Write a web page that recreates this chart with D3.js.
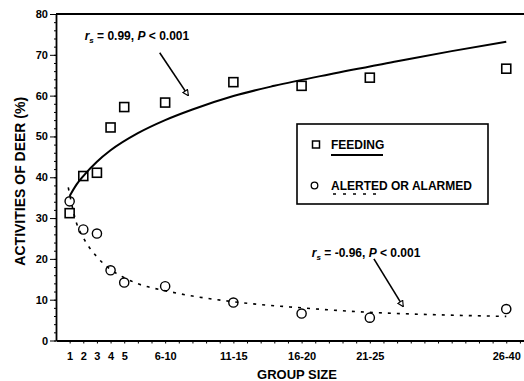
<!DOCTYPE html>
<html>
<head>
<meta charset="utf-8">
<script src="https://cdnjs.cloudflare.com/ajax/libs/d3/7.8.5/d3.min.js"></script>
<style>
body { margin: 0; background: #fff; }
svg { display: block; font-family: "Liberation Sans", Arial, sans-serif; font-weight: bold; }
.axis path, .axis line { stroke: #000; }
.axis text { font-family: "Liberation Sans", Arial, sans-serif; font-weight: bold; fill: #000; }
</style>
</head>
<body>
<div id="chart"></div>
<script>
// group size classes, placed at their midpoint on a linear scale
var groupLabels = ["1", "2", "3", "4", "5", "6-10", "11-15", "16-20", "21-25", "26-40"];
var groupMids = [1, 2, 3, 4, 5, 8, 13, 18, 23, 33];

// % of deer feeding / alerted or alarmed per group size class
var feeding = [31.2, 40.3, 41.1, 52.2, 57.2, 58.3, 63.3, 62.4, 64.4, 66.6];
var alerted = [34.1, 27.2, 26.2, 17.2, 14.2, 13.3, 9.3, 6.6, 5.6, 7.7];

// fitted curves
var feedFitX = [1, 1.5, 2, 3, 4, 6, 8, 10, 13, 16, 20, 25, 29, 33];
var feedFitY = [35.4, 38.2, 40.3, 43.8, 46.6, 50.8, 54.0, 56.6, 59.9, 62.4, 65.2, 68.4, 70.9, 73.2];
var alertFitX = [0.9, 1.5, 2, 3, 4, 5, 6, 8, 10, 13, 18, 23, 28, 33];
var alertFitY = [37.5, 28.8, 25.2, 20.5, 17.4, 15.4, 13.9, 12.2, 10.9, 9.5, 8.0, 6.9, 6.3, 5.9];

var yTicks = [0, 10, 20, 30, 40, 50, 60, 70, 80];

var width = 524,
    height = 381;

var svg = d3.select("#chart").append("svg")
    .attr("width", width)
    .attr("height", height);

var x = d3.scaleLinear()
    .domain([0, 34.3])
    .range([56, 524]);

var y = d3.scaleLinear()
    .domain([0, 80])
    .range([340.5, 14]);

// arrow head for the annotations
svg.append("defs").append("marker")
    .attr("id", "arrow")
    .attr("viewBox", "0 0 10 10")
    .attr("refX", 9)
    .attr("refY", 5)
    .attr("markerWidth", 7)
    .attr("markerHeight", 7)
    .attr("markerUnits", "userSpaceOnUse")
    .attr("orient", "auto")
  .append("path")
    .attr("d", "M1,1 L9,5 L1,9 Z")
    .attr("fill", "#fff")
    .attr("stroke", "#000")
    .attr("stroke-width", 1.6);

// minor y ticks
svg.append("g")
    .attr("class", "axis")
    .attr("transform", "translate(" + x(0) + ",0)")
    .call(d3.axisLeft(y).tickValues(d3.range(0, 81, 2)).tickSize(2).tickFormat(""))
    .call(function(g) { g.select(".domain").remove(); });

var yAxis = svg.append("g")
    .attr("class", "axis")
    .attr("transform", "translate(" + x(0) + ",0)")
    .call(d3.axisLeft(y).tickValues(yTicks).tickSize(6).tickSizeOuter(0).tickPadding(2));
yAxis.select(".domain").attr("stroke-width", 1.8);
yAxis.selectAll("text").style("font-size", "11px");

var xAxis = svg.append("g")
    .attr("class", "axis")
    .attr("transform", "translate(0," + y(0) + ")")
    .call(d3.axisBottom(x)
        .tickValues(d3.range(1, 35))
        .tickSize(3)
        .tickSizeOuter(0)
        .tickPadding(9)
        .tickFormat(function(d) {
            var i = groupMids.indexOf(d);
            return i >= 0 ? groupLabels[i] : "";
        }));
xAxis.select(".domain").attr("stroke-width", 2);
xAxis.selectAll("text").style("font-size", "11px");

// top frame line
svg.append("line")
    .attr("x1", x(0))
    .attr("x2", x.range()[1])
    .attr("y1", y(80))
    .attr("y2", y(80))
    .attr("stroke", "#000")
    .attr("stroke-width", 2);

svg.append("text")
    .attr("transform", "translate(25," + ((y(0) + y(80)) / 2 + 4) + ") rotate(-90)")
    .style("text-anchor", "middle")
    .style("font-size", "14px")
    .text("ACTIVITIES OF DEER (%)");

svg.append("text")
    .attr("x", 297)
    .attr("y", 379)
    .style("text-anchor", "middle")
    .style("font-size", "13px")
    .text("GROUP SIZE");

// fitted curves
var line = d3.line()
    .x(function(d) { return x(d[0]); })
    .y(function(d) { return y(d[1]); })
    .curve(d3.curveMonotoneX);

svg.append("path")
    .datum(d3.zip(feedFitX, feedFitY))
    .attr("d", line)
    .attr("fill", "none")
    .attr("stroke", "#000")
    .attr("stroke-width", 2);

svg.append("path")
    .datum(d3.zip(alertFitX, alertFitY))
    .attr("d", line)
    .attr("fill", "none")
    .attr("stroke", "#000")
    .attr("stroke-width", 1.6)
    .attr("stroke-dasharray", "3,6");

// data points
svg.selectAll("rect.feed")
    .data(d3.zip(groupMids, feeding))
    .enter().append("rect")
    .attr("class", "feed")
    .attr("x", function(d) { return x(d[0]) - 4.5; })
    .attr("y", function(d) { return y(d[1]) - 4.5; })
    .attr("width", 9)
    .attr("height", 9)
    .attr("fill", "none")
    .attr("stroke", "#000")
    .attr("stroke-width", 1.6);

svg.selectAll("circle.alert")
    .data(d3.zip(groupMids, alerted))
    .enter().append("circle")
    .attr("class", "alert")
    .attr("cx", function(d) { return x(d[0]); })
    .attr("cy", function(d) { return y(d[1]); })
    .attr("r", 4.6)
    .attr("fill", "none")
    .attr("stroke", "#000")
    .attr("stroke-width", 1.4);

// annotations
function stat(tx, ty, value) {
    var t = svg.append("text")
        .attr("x", x(tx))
        .attr("y", y(ty))
        .style("font-size", "12px");
    t.append("tspan").style("font-style", "italic").text("r");
    t.append("tspan").style("font-style", "italic").style("font-size", "8px").attr("dy", 3).text("s");
    t.append("tspan").attr("dy", -3).text(" = " + value + ", ");
    t.append("tspan").style("font-style", "italic").text("P");
    t.append("tspan").text(" < 0.001");
}
function arrow(x1, y1, x2, y2) {
    svg.append("line")
        .attr("x1", x(x1)).attr("y1", y(y1))
        .attr("x2", x(x2)).attr("y2", y(y2))
        .attr("stroke", "#000")
        .attr("stroke-width", 1.6)
        .attr("marker-end", "url(#arrow)");
}
stat(2.1, 73.6, "0.99");
arrow(7.6, 70.5, 9.7, 60);
stat(18.75, 20.5, "-0.96");
arrow(23.3, 20, 25.45, 8.3);

// legend
var legend = svg.append("g")
    .attr("transform", "translate(297,124)");

legend.append("rect")
    .attr("width", 191)
    .attr("height", 80)
    .attr("fill", "#fff")
    .attr("stroke", "#000")
    .attr("stroke-width", 1.6);

legend.append("rect")
    .attr("x", 15.5).attr("y", 17)
    .attr("width", 7).attr("height", 7)
    .attr("fill", "none").attr("stroke", "#000").attr("stroke-width", 1.5);
legend.append("text")
    .attr("x", 34).attr("y", 25)
    .style("font-size", "12px")
    .text("FEEDING");
legend.append("line")
    .attr("x1", 34).attr("x2", 86)
    .attr("y1", 31).attr("y2", 31)
    .attr("stroke", "#000").attr("stroke-width", 1.8);

legend.append("circle")
    .attr("cx", 17.5).attr("cy", 61.5)
    .attr("r", 3.3)
    .attr("fill", "none").attr("stroke", "#000").attr("stroke-width", 1.3);
legend.append("text")
    .attr("x", 34).attr("y", 66)
    .style("font-size", "12px")
    .text("ALERTED OR ALARMED");
legend.append("line")
    .attr("x1", 36).attr("x2", 84)
    .attr("y1", 70).attr("y2", 70)
    .attr("stroke", "#000").attr("stroke-width", 1.6)
    .attr("stroke-dasharray", "3,7");
</script>
</body>
</html>
